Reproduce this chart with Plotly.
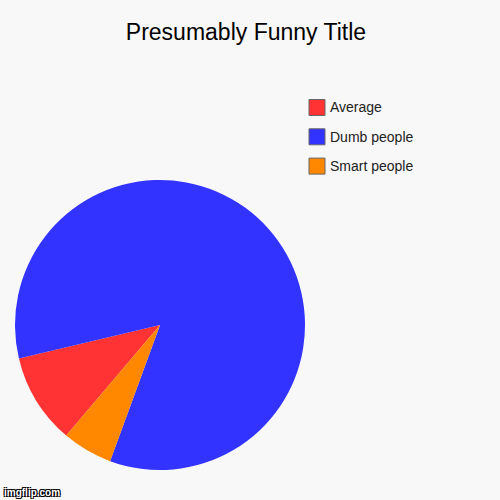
import plotly.graph_objects as go

# slice data, in legend order (percent of the circle)
labels = ["Average", "Dumb people", "Smart people"]
values = [10.1, 84.3, 5.6]
colors = ["#ff3333", "#3333ff", "#ff8800"]

bg = "#f8f8f8"

fig = go.Figure(go.Pie(
    labels=labels,
    values=values,
    marker=dict(colors=colors, line=dict(width=0)),
    textinfo="none",
    hoverinfo="label+percent",
    sort=False,
    direction="clockwise",
    rotation=220.3,
    domain=dict(x=[0.03, 0.61], y=[0.06, 0.64]),
    showlegend=False,
))

# legend drawn by hand so the row spacing matches
shapes = []
annotations = []
for i, (lab, col) in enumerate(zip(labels, colors)):
    yc = 107.5 + i * 29.3
    shapes.append(dict(
        type="rect", xref="paper", yref="paper",
        x0=309 / 500, x1=325 / 500,
        y0=1 - (yc + 8) / 500, y1=1 - (yc - 8) / 500,
        fillcolor=col, line=dict(color="#666666", width=1),
    ))
    annotations.append(dict(
        text=lab, xref="paper", yref="paper",
        x=328 / 500, y=1 - yc / 500, xanchor="left", yanchor="middle",
        showarrow=False, font=dict(size=14, color="#222222"),
    ))

annotations.append(dict(
    text="<b>imgflip.com</b>", xref="paper", yref="paper",
    x=2 / 500, y=1 - 492 / 500, xanchor="left", yanchor="middle",
    showarrow=False,
    font=dict(size=10, color="white",
              shadow="1px 1px 0 #000, -1px -1px 0 #000, 1px -1px 0 #000, -1px 1px 0 #000"),
))

fig.update_layout(
    width=500, height=500,
    margin=dict(l=0, r=0, t=0, b=0),
    paper_bgcolor=bg,
    plot_bgcolor=bg,
    font=dict(family="Arial, Liberation Sans, sans-serif", color="#222222"),
    title=dict(text="Presumably Funny Title", x=0.492, xanchor="center",
               y=1 - 32 / 500, yanchor="middle",
               font=dict(size=23, color="#000000")),
    shapes=shapes,
    annotations=annotations,
)

# drop the page's default body margin so the figure sits at the window corner
fig.write_html("out.html", config={"displayModeBar": False},
               post_script="document.body.style.margin='0';")
